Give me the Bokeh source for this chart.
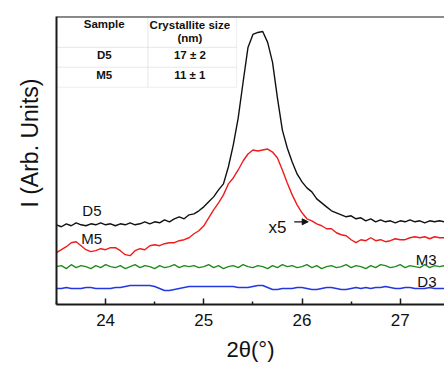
from bokeh.plotting import figure
from bokeh.models import (Range1d, FixedTicker, Label, Arrow, NormalHead, Span,
                          BoxAnnotation, ColumnDataSource, Title)
from bokeh.embed import file_html
from bokeh.resources import INLINE

# ---------------- data ----------------
two_theta = [23.50, 23.55, 23.60, 23.65, 23.70, 23.75, 23.80, 23.85, 23.90, 23.95,
             24.00, 24.05, 24.10, 24.15, 24.20, 24.25, 24.30, 24.35, 24.40, 24.45,
             24.50, 24.55, 24.60, 24.65, 24.70, 24.75, 24.80, 24.85, 24.90, 24.95,
             25.00, 25.05, 25.10, 25.15, 25.20, 25.25, 25.30, 25.35, 25.40, 25.45,
             25.50, 25.55, 25.60, 25.65, 25.70, 25.75, 25.80, 25.85, 25.90, 25.95,
             26.00, 26.05, 26.10, 26.15, 26.20, 26.25, 26.30, 26.35, 26.40, 26.45,
             26.50, 26.55, 26.60, 26.65, 26.70, 26.75, 26.80, 26.85, 26.90, 26.95,
             27.00, 27.05, 27.10, 27.15, 27.20, 27.25, 27.30, 27.35, 27.40, 27.45]

d5 = [80, 78, 81, 79, 82, 80, 79, 81, 80, 82,
      80, 81, 79, 81, 80, 82, 80, 81, 83, 81,
      83, 82, 85, 83, 86, 88, 86, 90, 91, 94,
      98, 103, 108, 115, 121, 138, 160, 187, 223, 258,
      271, 273, 274, 263, 243, 207, 175, 157, 143, 131,
      123, 117, 113, 106, 102, 98, 94, 92, 90, 88,
      89, 86, 87, 84, 86, 83, 85, 83, 84, 82,
      84, 83, 85, 83, 84, 82, 84, 83, 84, 83]

m5 = [52, 55, 58, 62, 63, 59, 55, 53, 54, 56,
      55, 57, 57, 54, 50, 49, 54, 56, 55, 59,
      60, 59, 61, 62, 62, 64, 65, 67, 71, 74,
      79, 87, 95, 102, 110, 121, 127, 135, 144, 151,
      155, 154, 155, 156, 153, 147, 135, 122, 110, 100,
      92, 86, 84, 81, 79, 76, 76, 72, 70, 69,
      65, 62, 65, 64, 67, 64, 65, 63, 64, 66,
      65, 65, 67, 68, 67, 68, 66, 68, 67, 67]

m3 = [38, 39, 36, 40, 37, 39, 38, 36, 39, 37,
      40, 38, 37, 39, 36, 38, 40, 37, 39, 38,
      36, 39, 37, 38, 40, 37, 39, 38, 39, 37,
      38, 40, 37, 39, 36, 38, 39, 37, 40, 38,
      37, 39, 38, 36, 39, 37, 40, 38, 39, 37,
      38, 40, 37, 39, 36, 38, 39, 37, 38, 40,
      37, 39, 38, 36, 39, 37, 40, 39, 37, 38,
      40, 37, 39, 38, 37, 40, 37, 39, 38, 39]

d3 = [16, 16, 17, 16, 16, 16, 17, 17, 16, 16,
      16, 16, 17, 17, 18, 19, 19, 19, 19, 19,
      18, 16, 14, 14, 15, 16, 17, 18, 18, 18,
      18, 18, 18, 18, 18, 18, 18, 17, 17, 17,
      18, 19, 19, 17, 15, 15, 16, 16, 16, 17,
      17, 16, 15, 15, 16, 17, 17, 16, 15, 15,
      16, 17, 16, 17, 16, 17, 17, 18, 17, 16,
      16, 17, 17, 16, 16, 16, 17, 16, 16, 16]

x_major_ticks = [24, 25, 26, 27]
x_minor_ticks = [23.5, 24.5, 25.5, 26.5, 27.5]

table_header = ["Sample", "Crystallite size"]
table_unit = "(nm)"
table_samples = ["D5", "M5"]
table_sizes = ["17 \u00b1 2", "11 \u00b1 1"]

# ---------------- figure ----------------
FONT = "Liberation Sans"
AXIS_COLOR = "#1a1a1a"

p = figure(width=444, height=366, output_backend="svg", toolbar_location=None,
           x_range=Range1d(23.5, 27.451), y_range=Range1d(0, 289),
           min_border_left=54, min_border_right=0, min_border_top=16,
           min_border_bottom=62)
p.outline_line_color = None
p.grid.visible = False
p.background_fill_color = "white"
p.border_fill_color = "white"

src = ColumnDataSource(dict(x=two_theta, d5=d5, m5=m5, m3=m3, d3=d3))
p.line("x", "d3", source=src, line_color="#2438e0", line_width=1.5)
p.line("x", "m3", source=src, line_color="#1f8a1f", line_width=1.3)
p.line("x", "m5", source=src, line_color="#ee1c1c", line_width=1.4)
p.line("x", "d5", source=src, line_color="#111111", line_width=1.4)

# x axis
xa = p.xaxis[0]
xa.ticker = FixedTicker(ticks=x_major_ticks, minor_ticks=x_minor_ticks)
xa.axis_line_width = 2
xa.axis_line_color = AXIS_COLOR
xa.major_tick_in = 6
xa.major_tick_out = 0
xa.minor_tick_in = 3
xa.minor_tick_out = 0
xa.major_tick_line_width = 1.5
xa.minor_tick_line_width = 1.5
xa.major_tick_line_color = AXIS_COLOR
xa.minor_tick_line_color = AXIS_COLOR
xa.major_label_text_font = FONT
xa.major_label_text_font_size = "17px"
xa.major_label_text_color = "#111111"
xa.major_label_standoff = 9
xa.axis_label = "2\u03b8(\u00b0)"
xa.axis_label_text_font = FONT
xa.axis_label_text_font_style = "normal"
xa.axis_label_text_font_size = "22px"
xa.axis_label_text_color = "#111111"
xa.axis_label_standoff = 8

# y axis: only the line
ya = p.yaxis[0]
ya.ticker = FixedTicker(ticks=[])
ya.major_label_text_font_size = "0px"
ya.axis_line_width = 2
ya.axis_line_color = AXIS_COLOR
ya.major_tick_in = 0
ya.major_tick_out = 0
ya.minor_tick_in = 0
ya.minor_tick_out = 0

# y label as a side title
p.add_layout(Title(text="I (Arb. Units)", align="right", offset=62,
                   vertical_align="bottom", standoff=28,
                   text_font=FONT, text_font_size="23px", text_font_style="normal",
                   text_color="#111111"), "left")

# top frame line
p.add_layout(Span(location=289, dimension="width", line_color=AXIS_COLOR, line_width=2))

# curve labels
def add_text(x, y, t, size="15px", align="left"):
    p.add_layout(Label(x=x, y=y, text=t, text_align=align, text_baseline="alphabetic",
                       text_font=FONT, text_font_size=size, text_color="#111111"))

add_text(23.763, 94, "D5")
add_text(23.753, 66, "M5")
add_text(25.658, 77, "x5", size="17px")
add_text(27.37, 45, "M3", align="right")
add_text(27.37, 23, "D3", align="right")

p.add_layout(Arrow(end=NormalHead(size=6, fill_color="#111111", line_color="#111111"),
                   x_start=25.921, y_start=83, x_end=26.063, y_end=83,
                   line_color="#111111", line_width=1.2))

# table
t_left, t_mid, t_right = 23.5, 24.432, 25.334
t_top, t_r1, t_r2, t_bottom = 289, 258, 238, 218
for (l, r) in [(t_left, t_mid), (t_mid, t_right)]:
    for (b, t) in [(t_r1, t_top), (t_r2, t_r1), (t_bottom, t_r2)]:
        p.add_layout(BoxAnnotation(left=l, right=r, bottom=b, top=t,
                                   fill_color="white", fill_alpha=1.0,
                                   line_color="#c8c8c8", line_width=1, level="underlay"))

def add_cell(x, y, t):
    p.add_layout(Label(x=x, y=y, text=t, text_align="center", text_baseline="middle",
                       text_font=FONT, text_font_size="11.5px",
                       text_font_style="bold", text_color="#111111"))

c1, c2 = 23.986, 24.858
add_cell(c1, 281, table_header[0])
add_cell(c2, 280, table_header[1])
add_cell(c2, 267, table_unit)
add_cell(c1, 250, table_samples[0])
add_cell(c2, 250, table_sizes[0])
add_cell(c1, 230, table_samples[1])
add_cell(c2, 230, table_sizes[1])

open("out.html", "w").write(file_html(p, INLINE))
